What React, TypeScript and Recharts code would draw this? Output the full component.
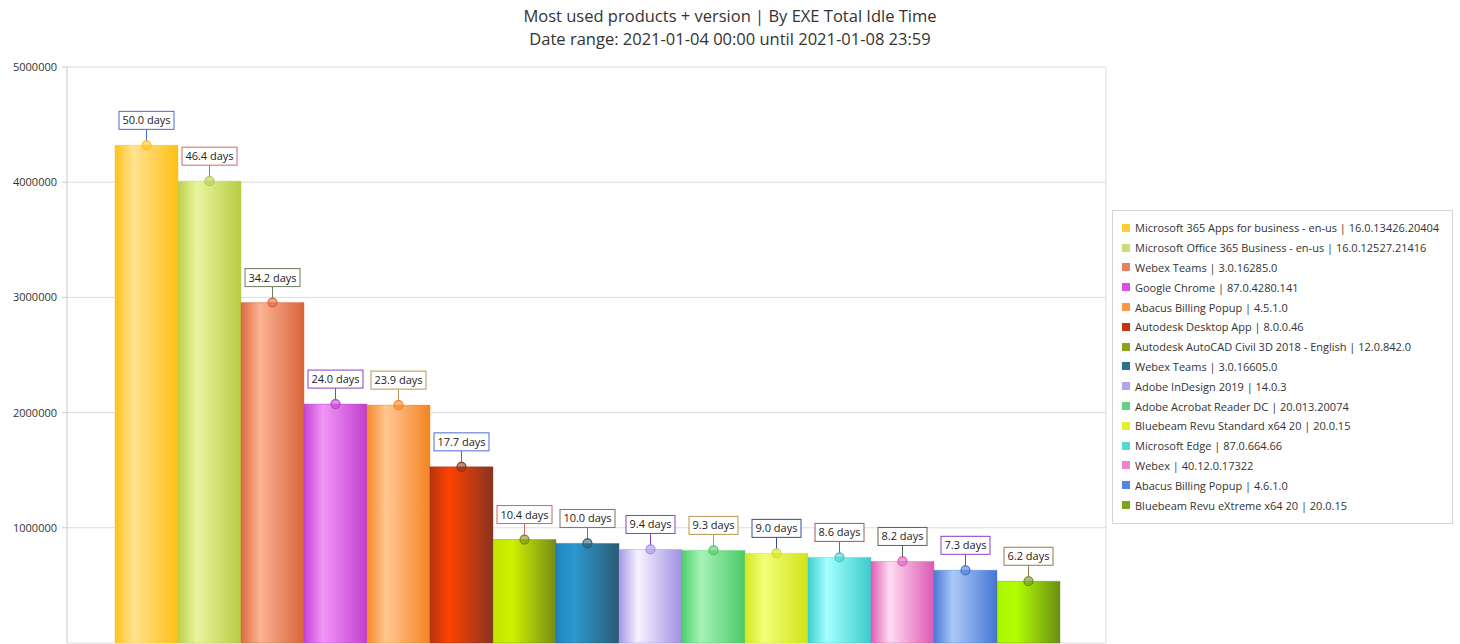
import React from "react";
import { Bar, BarChart, CartesianGrid, Cell, LabelList, XAxis, YAxis } from "recharts";

const products = [
  "Microsoft 365 Apps for business - en-us | 16.0.13426.20404",
  "Microsoft Office 365 Business - en-us | 16.0.12527.21416",
  "Webex Teams | 3.0.16285.0",
  "Google Chrome | 87.0.4280.141",
  "Abacus Billing Popup | 4.5.1.0",
  "Autodesk Desktop App | 8.0.0.46",
  "Autodesk AutoCAD Civil 3D 2018 - English | 12.0.842.0",
  "Webex Teams | 3.0.16605.0",
  "Adobe InDesign 2019 | 14.0.3",
  "Adobe Acrobat Reader DC | 20.013.20074",
  "Bluebeam Revu Standard x64 20 | 20.0.15",
  "Microsoft Edge | 87.0.664.66",
  "Webex | 40.12.0.17322",
  "Abacus Billing Popup | 4.6.1.0",
  "Bluebeam Revu eXtreme x64 20 | 20.0.15",
];

// total idle time in seconds
const idleSeconds = [
  4320000, 4009000, 2955000, 2074000, 2065000, 1529000, 898000, 864000, 812000, 804000, 778000, 743000,
  708000, 631000, 536000,
];

const yTicks = [0, 1000000, 2000000, 3000000, 4000000, 5000000];

const titleLines = [
  "Most used products + version | By EXE Total Idle Time",
  "Date range: 2021-01-04 00:00 until 2021-01-08 23:59",
];

// gradient stops: left edge, highlight, right edge
const gradients = [
  ["#ffc21c", "#ffe391", "#ffbf14"],
  ["#bccf4c", "#e9f59d", "#b8cb46"],
  ["#dc6a3e", "#fbb394", "#d8643a"],
  ["#c445d2", "#f295f8", "#bf3ecd"],
  ["#f7892a", "#ffc792", "#f58424"],
  ["#b83410", "#ff4200", "#873420"],
  ["#c2e400", "#cdf200", "#768a16"],
  ["#1f86be", "#2b97cd", "#2b5b73"],
  ["#a596e6", "#f6f3ff", "#a08fe2"],
  ["#4fce6c", "#a6f2b6", "#4bc968"],
  ["#d6e61e", "#f2ff78", "#d2e218"],
  ["#3fcfcf", "#a5ffff", "#3ccbcb"],
  ["#df5db6", "#ffdcf1", "#dc58b2"],
  ["#4878d6", "#abcaf9", "#4575d4"],
  ["#a9f500", "#b2ff02", "#6a8d12"],
];

const legendColors = [
  "#ffcc33", "#cddc78", "#e8825c", "#d653e2", "#f8994a", "#c43512", "#8aa514", "#2b7293",
  "#b3a4ec", "#63d383", "#e0ef34", "#55dada", "#eb86cd", "#5285e2", "#7da414",
];

const labelBorders = [
  "#4a6cd0", "#c86868", "#6f7d5f", "#8a3ccc", "#b89550",
  "#4a6cd0", "#c86868", "#6f7d5f", "#8a3ccc", "#b89550",
  "#3a4aa0", "#9a5a5a", "#5a6050", "#8a3ccc", "#9a7a40",
];

const data = products.map((name, i) => ({ name, value: idleSeconds[i] }));

const FONT = "'Open Sans', 'Noto Sans', sans-serif";

function DaysLabel(props: any) {
  const { x, y, width, value, index } = props;
  const cx = x + width / 2;
  const text = `${(value / 86400).toFixed(1)} days`;
  const w = text.length * 6 + 1;
  const h = 18;
  const boxBottom = y - 16;
  const border = labelBorders[index];
  const dark = gradients[index][2];
  return (
    <g>
      <line x1={cx} y1={boxBottom} x2={cx} y2={y - 4} stroke={border} strokeWidth={1} />
      <circle cx={cx} cy={y} r={4.5} fill={dark} fillOpacity={0.55} stroke={dark} strokeWidth={1.2} />
      <rect x={cx - w / 2} y={boxBottom - h} width={w} height={h} fill="#fff" stroke={border} strokeWidth={1} />
      <text x={cx} y={boxBottom - 5} textAnchor="middle" fontSize={11} fill="#222" fontFamily={FONT}>
        {text}
      </text>
    </g>
  );
}

export default function App() {
  return (
    <div style={{ position: "absolute", left: 0, top: 0, width: 1460, height: 644, background: "#fff", fontFamily: FONT }}>
      <div style={{ position: "absolute", left: 0, top: 4, width: 1460, textAlign: "center", color: "#333", fontSize: 16.5, lineHeight: "23px" }}>
        {titleLines.map((t) => (
          <div key={t}>{t}</div>
        ))}
      </div>
      <BarChart
        width={1460}
        height={644}
        data={data}
        margin={{ top: 67, right: 354, left: 0, bottom: 1 }}
        barCategoryGap={0}
        barGap={0}
      >
        <defs>
          {gradients.map((g, i) => (
            <linearGradient key={i} id={`bg${i}`} x1="0" y1="0" x2="1" y2="0">
              <stop offset="0%" stopColor={g[0]} />
              <stop offset="30%" stopColor={g[1]} />
              <stop offset="100%" stopColor={g[2]} />
            </linearGradient>
          ))}
        </defs>
        <CartesianGrid
          stroke="#dcdcdc"
          verticalCoordinatesGenerator={({ offset }: any) => [offset.left + offset.width]}
        />
        <XAxis dataKey="name" hide padding={{ left: 48, right: 46 }} />
        <YAxis
          domain={[0, 5000000]}
          ticks={yTicks}
          width={67}
          tickSize={5}
          tickMargin={5}
          stroke="#c8c8c8"
          tick={{ fill: "#333", fontSize: 11, fontFamily: FONT }}
        />
        <Bar dataKey="value" isAnimationActive={false}>
          {data.map((d, i) => (
            <Cell key={d.name} fill={`url(#bg${i})`} stroke={gradients[i][2]} strokeOpacity={0.4} />
          ))}
          <LabelList dataKey="value" content={DaysLabel} />
        </Bar>
      </BarChart>
      <div
        style={{
          position: "absolute",
          left: 1112,
          top: 210,
          width: 341,
          height: 314,
          border: "1px solid #d4d4d4",
          boxSizing: "border-box",
          padding: "7px 0 0 9px",
          fontSize: 11,
          color: "#333",
        }}
      >
        {products.map((p, i) => (
          <div key={i} style={{ display: "flex", alignItems: "center", height: 19.8, whiteSpace: "nowrap" }}>
            <span style={{ display: "inline-block", width: 8, height: 8, background: legendColors[i], marginRight: 5 }} />
            <span>{p}</span>
          </div>
        ))}
      </div>
    </div>
  );
}
